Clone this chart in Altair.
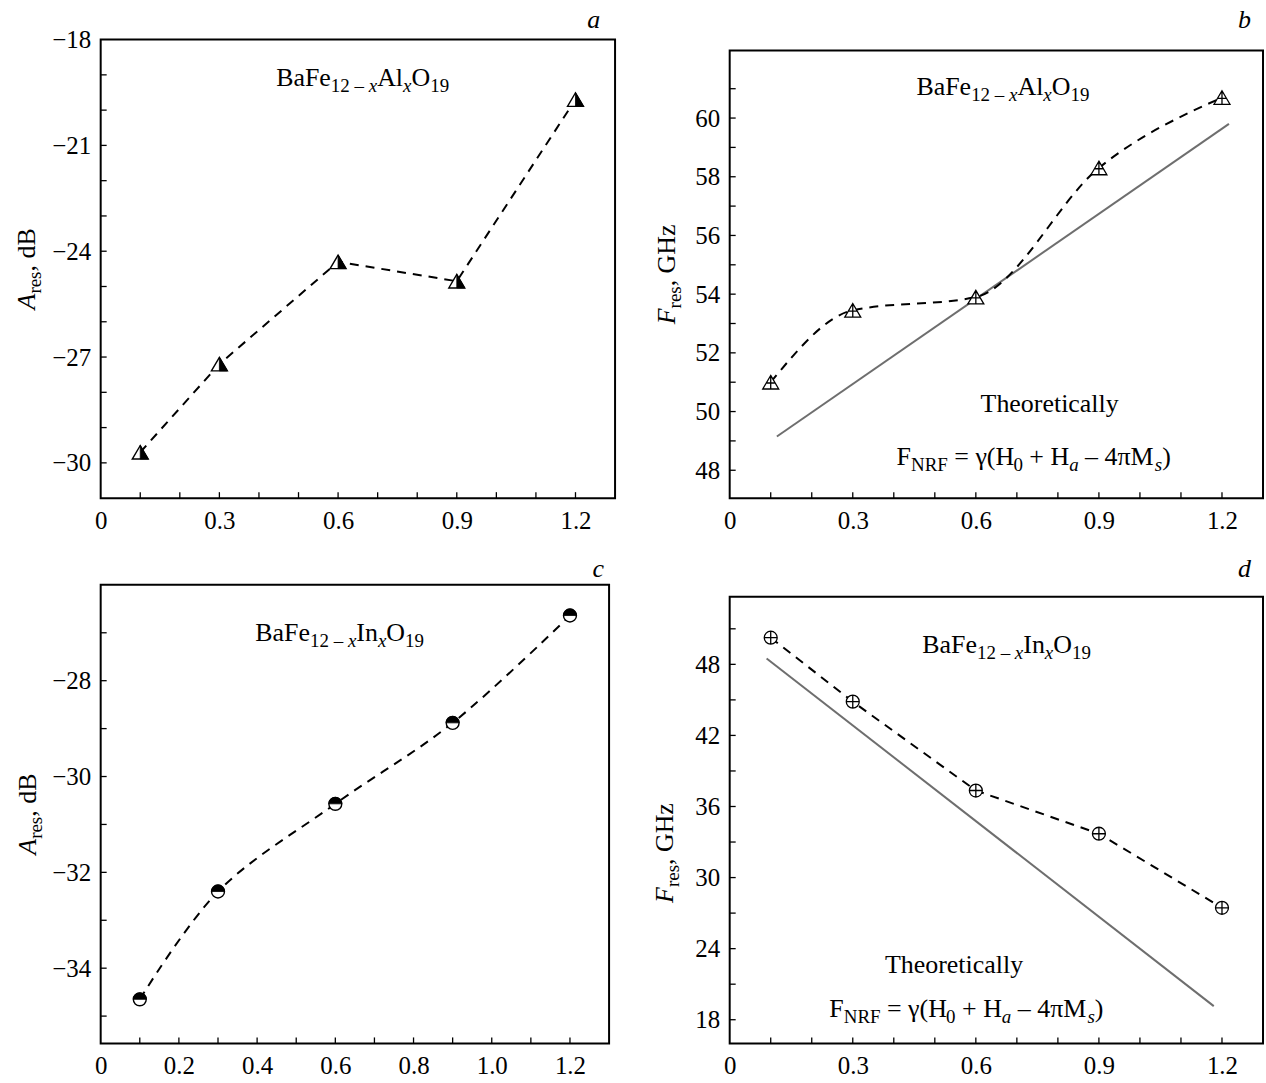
import altair as alt
import pandas as pd

FONT = "Liberation Serif"

# Al-substituted hexaferrite
x_al = [0.1, 0.3, 0.6, 0.9, 1.2]
a_res_al = [-29.7, -27.2, -24.3, -24.85, -19.7]
f_res_al = [51.0, 53.45, 53.9, 58.3, 60.7]
theory_al_x = [0.115, 1.217]
theory_al_f = [49.15, 59.8]

# In-substituted hexaferrite
x_in = [0.1, 0.3, 0.6, 0.9, 1.2]
a_res_in = [-34.65, -32.4, -30.57, -28.88, -26.64]
f_res_in = [50.25, 44.85, 37.35, 33.7, 27.45]
theory_in_x = [0.09, 1.18]
theory_in_f = [48.5, 19.15]

# axis ticks
x_labels_3 = [0, 0.3, 0.6, 0.9, 1.2]
x_labels_2 = [0, 0.2, 0.4, 0.6, 0.8, 1.0, 1.2]
x_minor = [round(0.1 * i, 1) for i in range(1, 13)]
ya_labels = [-30, -27, -24, -21, -18]
ya_minor = list(range(-30, -18))
yb_labels = [48, 50, 52, 54, 56, 58, 60]
yb_minor = list(range(48, 62))
yc_labels = [-34, -32, -30, -28]
yc_minor = list(range(-35, -26))
yd_labels = [18, 24, 30, 36, 42, 48]
yd_minor = list(range(18, 52, 3))

# approximate advance widths (em) for the serif face
W_REG = {"B": .667, "a": .444, "F": .556, "e": .444, "1": .5, "2": .5, "9": .5,
         "0": .5, "4": .5, " ": .25, "–": .5, "x": .5, "A": .722, "l": .278,
         "I": .333, "n": .5, "O": .722, "T": .611, "h": .5, "o": .5, "r": .333,
         "t": .278, "i": .278, "c": .444, "y": .5, "N": .722, "R": .667,
         "=": .564, "γ": .41, "(": .333, ")": .333, "H": .722, "+": .564,
         "π": .55, "M": .889, "s": .389, ",": .25, "d": .5, "G": .722, "z": .444}
W_IT = {"x": .444, "a": .5, "s": .389, "A": .611, "F": .611}


def text_width(text, size, italic):
    table = W_IT if italic else {}
    return sum(table.get(ch, W_REG.get(ch, .5)) for ch in text) * size


def seg_layers(segments, src, enc, pos, extra):
    layers = []
    for t, s, it, sh in segments:
        core = t.strip(" ")
        lead = len(t) - len(t.lstrip(" "))
        trail = len(t) - len(t.rstrip(" "))
        pos += text_width(" " * lead, s, it)
        layers.append(
            alt.Chart(src).mark_text(
                text=core, font=FONT, fontSize=s,
                fontStyle="italic" if it else "normal",
                align="left", baseline="alphabetic", dx=pos, dy=sh, color="black",
                **extra,
            ).encode(**enc)
        )
        pos += text_width(core, s, it) + text_width(" " * trail, s, it)
    return layers


def rich_text(segments, x, y, X, Y):
    """Centered multi-part label (with subscripts) anchored at data (x, y)."""
    total = sum(text_width(t, s, it) for t, s, it, _ in segments)
    src = pd.DataFrame({"x": [x], "y": [y]})
    return seg_layers(segments, src, {"x": X("x:Q"), "y": Y("y:Q")}, -total / 2, {})


def rotated_title(segments, xpx, ypx):
    total = sum(text_width(t, s, it) for t, s, it, _ in segments)
    one = alt.Data(values=[{"k": 0}])
    return seg_layers(segments, one, {"x": alt.value(xpx), "y": alt.value(ypx)},
                      -total / 2, {"angle": 270})


def panel_letter(letter, xpx, ypx):
    return alt.Chart(alt.Data(values=[{"k": 0}])).mark_text(
        text=letter, font=FONT, fontSize=26, fontStyle="italic", align="right",
        baseline="alphabetic", color="black").encode(x=alt.value(xpx), y=alt.value(ypx))


LABEL_EXPR = "datum.value == 0 ? '0' : format(datum.value, '.1f')"


def panel(xs_dom, ys_dom, w, h, top, xlab, ylab, yminor):
    total = top + h
    xs = alt.Scale(domain=xs_dom, nice=False, zero=False)
    ys = alt.Scale(domain=ys_dom, nice=False, zero=False, range=[total, top])
    common = dict(ticks=False, tickSize=0, domain=False, grid=False, labelPadding=10,
                  labelOverlap=False, labelFlush=False, labelFont=FONT,
                  labelFontSize=25, labelColor="black")
    xaxis = alt.Axis(values=xlab, labelExpr=LABEL_EXPR, **common)
    yaxis = alt.Axis(values=ylab, **common)

    def X(f):
        return alt.X(f, scale=xs, axis=xaxis, title=None)

    def Y(f):
        return alt.Y(f, scale=ys, axis=yaxis, title=None)

    # inward ticks along the bottom and left edges
    xt = alt.Chart(pd.DataFrame({"x": x_minor})).mark_rule(
        color="black", strokeWidth=1.3).encode(
        x=X("x:Q"), y=alt.value(total), y2=alt.value(total - 6))
    yt = alt.Chart(pd.DataFrame({"y": yminor})).mark_rule(
        color="black", strokeWidth=1.3).encode(
        y=Y("y:Q"), x=alt.value(0), x2=alt.value(6))
    frame = alt.Chart(alt.Data(values=[{"k": 0}])).mark_rect(
        fillOpacity=0, stroke="black", strokeWidth=2).encode(
        x=alt.value(0), x2=alt.value(w), y=alt.value(top), y2=alt.value(total))
    return X, Y, [xt, yt], frame, total


def markers(df, X, Y, shape, fill, size, width=1.4):
    return alt.Chart(df).mark_point(
        shape=shape, filled=True, fill=fill, stroke="black", strokeWidth=width,
        size=size, opacity=1).encode(x=X("x:Q"), y=Y("y:Q"))


TRI = "M0,-0.85L1,0.85L-1,0.85Z"
TRI_RIGHT = "M0,-0.85L1,0.85L0,0.85Z"
TRI_CROSS = "M0,-0.85L1,0.85L-1,0.85ZM0,-0.85L0,0.85M-0.5,0.1L0.5,0.1"
HALF_TOP = "M-1,0A1,1,0,0,1,1,0Z"
CIRC_PLUS = "M-1,0A1,1,0,1,1,1,0A1,1,0,1,1,-1,0ZM-1,0L1,0M0,-1L0,1"


def dashed(df, X, Y, interp):
    return alt.Chart(df).mark_line(
        color="black", strokeWidth=2, strokeDash=[9, 7], interpolate=interp).encode(
        x=X("x:Q"), y=Y("y:Q"))


def theory(df, X, Y):
    return alt.Chart(df).mark_line(color="#6e6e6e", strokeWidth=2).encode(
        x=X("x:Q"), y=Y("y:Q"))


SUB = 6
AL_FORMULA = [("BaFe", 26, False, 0), ("12 – ", 19, False, SUB), ("x", 19, True, SUB),
              ("Al", 26, False, 0), ("x", 19, True, SUB), ("O", 26, False, 0),
              ("19", 19, False, SUB)]
IN_FORMULA = [("BaFe", 26, False, 0), ("12 – ", 19, False, SUB), ("x", 19, True, SUB),
              ("In", 26, False, 0), ("x", 19, True, SUB), ("O", 26, False, 0),
              ("19", 19, False, SUB)]
NRF = [("F", 26, False, 0), ("NRF", 19, False, SUB), (" = γ(H", 26, False, 0),
       ("0", 19, False, SUB), (" + H", 26, False, 0), ("a", 19, True, SUB),
       (" – 4πM", 26, False, 0), ("s", 19, True, SUB), (")", 26, False, 0)]
THEO = [("Theoretically", 26, False, 0)]
A_TITLE = [("A", 26, True, 0), ("res", 19, False, SUB), (", dB", 26, False, 0)]
F_TITLE = [("F", 26, True, 0), ("res", 19, False, SUB), (", GHz", 26, False, 0)]

# ---- panel a
WA, HA, TA = 516, 460, 0
X, Y, ticks, frame, tot = panel([0, 1.3], [-31, -18], WA, HA, TA, x_labels_3,
                                ya_labels, ya_minor)
da = pd.DataFrame({"x": x_al, "y": a_res_al})
chart_a = alt.layer(
    *ticks,
    dashed(da, X, Y, "linear"),
    markers(da, X, Y, TRI, "white", 256),
    markers(da, X, Y, TRI_RIGHT, "black", 256, 0.8),
    *rich_text(AL_FORMULA, 0.662, -19.31, X, Y),
    *rotated_title(A_TITLE, -66, TA + HA / 2),
    panel_letter("a", WA - 15, TA - 12),
    frame,
).properties(width=WA, height=tot)

# ---- panel b
WB, HB, TB = 535, 449, 11
X, Y, ticks, frame, tot = panel([0, 1.3], [47.05, 62.3], WB, HB, TB, x_labels_3,
                                yb_labels, yb_minor)
db = pd.DataFrame({"x": x_al, "y": f_res_al})
tb = pd.DataFrame({"x": theory_al_x, "y": theory_al_f})
chart_b = alt.layer(
    *ticks,
    theory(tb, X, Y),
    dashed(db, X, Y, "monotone"),
    markers(db, X, Y, TRI_CROSS, "white", 256, 1.3),
    *rich_text(AL_FORMULA, 0.666, 60.77, X, Y),
    *rich_text(THEO, 0.78, 50.0, X, Y),
    *rich_text(NRF, 0.741, 48.19, X, Y),
    *rotated_title(F_TITLE, -55, TB + HB / 2),
    panel_letter("b", WB - 12, -12),
    frame,
).properties(width=WB, height=tot)

# ---- panel c
WC, HC, TC = 510, 460, 0
X, Y, ticks, frame, tot = panel([0, 1.3], [-35.57, -26], WC, HC, TC, x_labels_2,
                                yc_labels, yc_minor)
dc = pd.DataFrame({"x": x_in, "y": a_res_in})
chart_c = alt.layer(
    *ticks,
    dashed(dc, X, Y, "catmull-rom"),
    markers(dc, X, Y, "circle", "white", 169),
    markers(dc, X, Y, HALF_TOP, "black", 169, 0.8),
    *rich_text(IN_FORMULA, 0.611, -27.17, X, Y),
    *rotated_title(A_TITLE, -65, TC + HC / 2),
    panel_letter("c", WC - 5, TC - 8),
    frame,
).properties(width=WC, height=tot)

# ---- panel d
WD, HD, TD = 535, 448, 12
X, Y, ticks, frame, tot = panel([0, 1.3], [16, 53.7], WD, HD, TD, x_labels_3,
                                yd_labels, yd_minor)
dd = pd.DataFrame({"x": x_in, "y": f_res_in})
td = pd.DataFrame({"x": theory_in_x, "y": theory_in_f})
chart_d = alt.layer(
    *ticks,
    theory(td, X, Y),
    dashed(dd, X, Y, "linear"),
    markers(dd, X, Y, CIRC_PLUS, "white", 169, 1.3),
    *rich_text(IN_FORMULA, 0.675, 48.93, X, Y),
    *rich_text(THEO, 0.547, 21.96, X, Y),
    *rich_text(NRF, 0.577, 18.25, X, Y),
    *rotated_title(F_TITLE, -57, TD + 257),
    panel_letter("d", WD - 12, -8),
    frame,
).properties(width=WD, height=tot)

row1 = alt.hconcat(chart_a, chart_b, spacing=38)
row2 = alt.hconcat(chart_c, chart_d, spacing=42)

chart = alt.vconcat(row1, row2, spacing=23).properties(
    padding={"left": 14, "top": 5, "right": 2, "bottom": 2},
    background="white",
).configure_view(
    strokeWidth=0, strokeOpacity=0
)

chart.save("out.html", embed_options={"renderer": "svg", "actions": False})
